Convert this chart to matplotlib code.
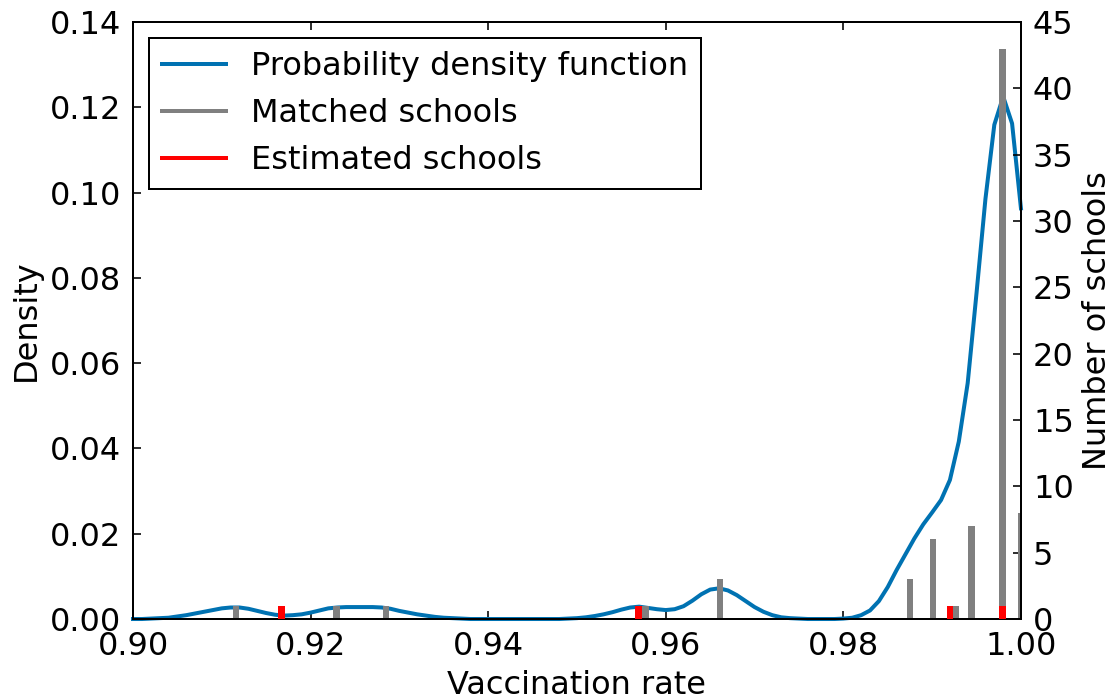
import matplotlib
matplotlib.use("Agg")
import matplotlib.pyplot as plt
from matplotlib.lines import Line2D

# KDE of vaccination rate (evaluated on a 0.001 grid, flat stretches collapsed)
kde_rate = [
    0.900, 0.901, 0.902, 0.903, 0.904, 0.905, 0.906, 0.907, 0.908, 0.909,
    0.910, 0.911, 0.912, 0.913, 0.914, 0.915, 0.916, 0.917, 0.918, 0.919,
    0.920, 0.921, 0.922, 0.923, 0.924, 0.925, 0.926, 0.927, 0.928, 0.929,
    0.930, 0.931, 0.932, 0.933, 0.934, 0.935, 0.936, 0.937, 0.938, 0.948,
    0.949, 0.950, 0.951, 0.952, 0.953, 0.954, 0.955, 0.956, 0.957, 0.958,
    0.959, 0.960, 0.961, 0.962, 0.963, 0.964, 0.965, 0.966, 0.967, 0.968,
    0.969, 0.970, 0.971, 0.972, 0.973, 0.974, 0.975, 0.976, 0.979, 0.980,
    0.981, 0.982, 0.983, 0.984, 0.985, 0.986, 0.987, 0.988, 0.989, 0.990,
    0.991, 0.992, 0.993, 0.994, 0.995, 0.996, 0.997, 0.998, 0.999, 1.000,
]
kde_density = [
    0.0000, 0.0000, 0.0001, 0.0002, 0.0003, 0.0006, 0.0009, 0.0013, 0.0017, 0.0021,
    0.0025, 0.0027, 0.0027, 0.0024, 0.0019, 0.0014, 0.0010, 0.0008, 0.0009, 0.0011,
    0.0015, 0.0020, 0.0025, 0.0027, 0.0028, 0.0028, 0.0028, 0.0028, 0.0027, 0.0024,
    0.0019, 0.0015, 0.0011, 0.0008, 0.0005, 0.0003, 0.0002, 0.0001, 0.0000, 0.0000,
    0.0001, 0.0002, 0.0004, 0.0007, 0.0011, 0.0016, 0.0022, 0.0027, 0.0029, 0.0026,
    0.0023, 0.0021, 0.0023, 0.0030, 0.0043, 0.0058, 0.0069, 0.0072, 0.0067, 0.0056,
    0.0042, 0.0028, 0.0017, 0.0009, 0.0004, 0.0002, 0.0001, 0.0000, 0.0000, 0.0001,
    0.0003, 0.0009, 0.0020, 0.0042, 0.0075, 0.0115, 0.0152, 0.0189, 0.0222, 0.0250,
    0.0279, 0.0326, 0.0416, 0.0553, 0.0765, 0.0985, 0.1159, 0.1225, 0.1162, 0.0963,
]

matched_rate = [0.9116, 0.9229, 0.9285, 0.9577, 0.9661, 0.9875, 0.9901, 0.9926, 0.9944, 0.9979, 1.0000]
matched_count = [1, 1, 1, 1, 3, 3, 6, 1, 7, 43, 8]
estimated_rate = [0.9167, 0.9569, 0.9920, 0.9979]
estimated_count = [1, 1, 1, 1]

density_ticks = [0.00, 0.02, 0.04, 0.06, 0.08, 0.10, 0.12, 0.14]
count_ticks = [0, 5, 10, 15, 20, 25, 30, 35, 40, 45]
rate_ticks = [0.90, 0.92, 0.94, 0.96, 0.98, 1.00]

BLUE = "#0072b2"
GRAY = "#808080"
RED = "#ff0000"

plt.rcParams.update({
    "font.family": "DejaVu Sans",
    "font.size": 16,
    "xtick.direction": "in",
    "ytick.direction": "in",
    "xtick.major.size": 4,
    "ytick.major.size": 4,
    "xtick.major.pad": 6,
    "ytick.major.pad": 6,
    "axes.linewidth": 1.0,
})

fig = plt.figure(figsize=(1113 / 144, 700 / 144), dpi=144, facecolor="white")
ax = fig.add_axes([0.1195, 0.1157, 0.7978, 0.8529])
ax2 = ax.twinx()

ax.plot(kde_rate, kde_density, color=BLUE, lw=2.0, clip_on=False, zorder=2)
ax2.bar(matched_rate, matched_count, width=0.00075, color=GRAY, lw=0, align="center", zorder=2)
ax2.bar(estimated_rate, estimated_count, width=0.00075, color=RED, lw=0, align="center", zorder=3)

ax.set_xlim(0.90, 1.00)
ax.set_ylim(0.0, 0.14)
ax2.set_ylim(0, 45)
ax.set_xticks(rate_ticks)
ax.set_xticklabels([f"{t:.2f}" for t in rate_ticks])
ax.set_yticks(density_ticks)
ax.set_yticklabels([f"{t:.2f}" for t in density_ticks])
ax2.set_yticks(count_ticks)
ax.tick_params(axis="x", top=True, bottom=True)
ax.tick_params(axis="y", left=True, right=False)
ax2.tick_params(axis="y", left=False, right=True)

ax.set_xlabel("Vaccination rate")
ax.set_ylabel("Density")
ax2.set_ylabel("Number of schools")

handles = [
    Line2D([], [], color=BLUE, lw=2.0),
    Line2D([], [], color=GRAY, lw=2.0),
    Line2D([], [], color=RED, lw=2.0),
]
labels = ["Probability density function", "Matched schools", "Estimated schools"]
leg = ax2.legend(handles, labels, loc="upper left", fancybox=False, framealpha=1.0,
                 edgecolor="black", borderaxespad=0.5, handlelength=2.0,
                 labelspacing=0.5, borderpad=0.4)
leg.get_frame().set_linewidth(1.0)

fig.savefig("out.png", dpi=144, facecolor="white")
